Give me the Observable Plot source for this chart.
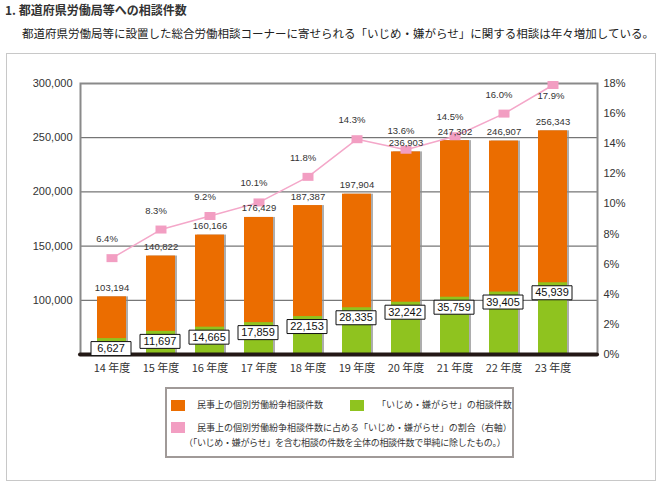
<!DOCTYPE html>
<html>
<head>
<meta charset="utf-8">
<script src="https://cdn.jsdelivr.net/npm/d3@7"></script>
<script src="https://cdn.jsdelivr.net/npm/@observablehq/plot@0.6"></script>
<style>
  body { margin:0; background:#fff; width:667px; height:494px; position:relative; overflow:hidden; }
  .jp { font-family: "Noto Sans CJK JP", sans-serif; }
  #title { position:absolute; left:5px; top:2px; font-size:12px; font-weight:bold; color:#333; white-space:nowrap; line-height:16px; }
  #subtitle { position:absolute; left:22px; top:25px; font-size:11.5px; color:#222; white-space:nowrap; line-height:16px; }
  #outer { position:absolute; left:6px; top:53px; width:648px; height:426px; border:1px solid #c8c8c8; }
  #chart { position:absolute; left:0; top:53px; }
  #legend { position:absolute; left:165px; top:387px; width:345px; height:67px; border:2px solid #a09a98; background:#fff; }
  #legend .sw { position:absolute; width:14px; height:11px; }
  #legend .tx { position:absolute; font-size:9px; line-height:12px; color:#333; white-space:nowrap; }
</style>
</head>
<body>
<div id="title" class="jp">1. 都道府県労働局等への相談件数</div>
<div id="subtitle" class="jp">都道府県労働局等に設置した総合労働相談コーナーに寄せられる「いじめ・嫌がらせ」に関する相談は年々増加している。</div>
<div id="outer"></div>
<div id="chart"></div>
<div id="legend" class="jp">
  <div class="sw" style="left:4px;top:11px;background:#EB6D00"></div>
  <div class="tx" style="left:30px;top:10px">民事上の個別労働紛争相談件数</div>
  <div class="sw" style="left:183px;top:11px;background:#8FC31F"></div>
  <div class="tx" style="left:210px;top:10px">「いじめ・嫌がらせ」の相談件数</div>
  <div class="sw" style="left:4px;top:33px;background:#F29EC2"></div>
  <div class="tx" style="left:30px;top:33px">民事上の個別労働紛争相談件数に占める「いじめ・嫌がらせ」の割合（右軸）</div>
  <div class="tx" style="left:17px;top:48px;letter-spacing:-0.3px">（「いじめ・嫌がらせ」を含む相談の件数を全体の相談件数で単純に除したもの。）</div>
</div>
<script>
const years = ["14 年度","15 年度","16 年度","17 年度","18 年度","19 年度","20 年度","21 年度","22 年度","23 年度"];
const totalCases = [103194,140822,160166,176429,187387,197904,236903,247302,246907,256343];
const bullyingCases = [6627,11697,14665,17859,22153,28335,32242,35759,39405,45939];
const bullyingShare = [6.4,8.3,9.2,10.1,11.8,14.3,13.6,14.5,16.0,17.9];
const leftTicks = [100000,150000,200000,250000,300000];
const rightTicks = [0,2,4,6,8,10,12,14,16,18];

const rows = years.map((year, i) => ({year, total: totalCases[i], bullying: bullyingCases[i], share: bullyingShare[i], last: i === years.length - 1}));

const yBase = 50000, yTop = 300000, shareMax = 18;
const shareToY = p => yBase + p / shareMax * (yTop - yBase);
// the reference draws the green bars on their own (unlabelled) scale
const greenToY = v => 56000 + 1.31 * v;
const fmt = d3.format(",");

const boxSymbol = { draw(ctx) { ctx.rect(-20, -7, 40, 14); } };
const pinkSymbol = { draw(ctx) { ctx.rect(-5.5, -4, 11, 8); } };

const chart = Plot.plot({
  width: 667, height: 330,
  marginLeft: 80, marginRight: 70, marginTop: 30, marginBottom: 29,
  style: { background: "transparent", overflow: "visible", fontFamily: "'Liberation Sans', Arial, sans-serif" },
  x: { type: "band", domain: years, range: [94, 571], paddingInner: 0.4, paddingOuter: 0, label: null },
  y: { domain: [yBase, yTop], label: null },
  marks: [
    Plot.ruleY(leftTicks.filter(v => v < yTop), { stroke: "#555", strokeWidth: 1 }),
    Plot.barY(rows, { x: "year", y1: yBase, y2: "total", fill: "#8a8a8a", fillOpacity: 0.7, dx: 2 }),
    Plot.barY(rows, { x: "year", y1: yBase, y2: "total", fill: "#EB6D00" }),
    Plot.barY(rows, { x: "year", y1: yBase, y2: d => greenToY(d.bullying), fill: "#8FC31F" }),
    Plot.frame({ stroke: "#8a8a8a", strokeWidth: 2 }),
    Plot.ruleY([yBase], { stroke: "#231815", strokeWidth: 4, strokeLinecap: "round" }),
    Plot.line(rows, { x: "year", y: d => shareToY(d.share), stroke: "#F4A7C9", strokeWidth: 1.5 }),
    Plot.dot(rows, { x: "year", y: d => shareToY(d.share), symbol: pinkSymbol, fill: "#F29EC2", stroke: null }),
    Plot.text(rows, { x: "year", y: "total", text: d => fmt(d.total), dy: -9, fontSize: 9.5, fill: "#333" }),
    Plot.text(rows.filter(d => !d.last), { x: "year", y: d => shareToY(d.share), text: d => d.share.toFixed(1) + "%", dx: -5, dy: -19, fontSize: 9.5, fill: "#333" }),
    Plot.text(rows.filter(d => d.last), { x: "year", y: d => shareToY(d.share), text: d => d.share.toFixed(1) + "%", dx: -2, dy: 11, fontSize: 9.5, fill: "#333" }),
    Plot.dot(rows, { x: "year", y: d => greenToY(d.bullying), symbol: boxSymbol, fill: "white", stroke: "#111", strokeWidth: 1, dx: -1, dy: 10 }),
    Plot.text(rows, { x: "year", y: d => greenToY(d.bullying), text: d => fmt(d.bullying), dx: -1, dy: 10, fontSize: 11, fill: "#111" }),
    Plot.axisY(leftTicks, { anchor: "left", tickSize: 0, tickPadding: 8, tickFormat: fmt, fontSize: 11, color: "#333", label: null }),
    Plot.axisY(rightTicks.map(shareToY), { anchor: "right", tickSize: 0, tickPadding: 6, tickFormat: v => Math.round((v - yBase) / (yTop - yBase) * shareMax) + "%", fontSize: 11, color: "#333", label: null }),
    Plot.axisX({ tickSize: 0, tickPadding: 10, fontSize: 11, color: "#333", label: null, fontFamily: "'Noto Sans CJK JP', sans-serif" })
  ]
});
document.getElementById("chart").appendChild(chart);
</script>
</body>
</html>
